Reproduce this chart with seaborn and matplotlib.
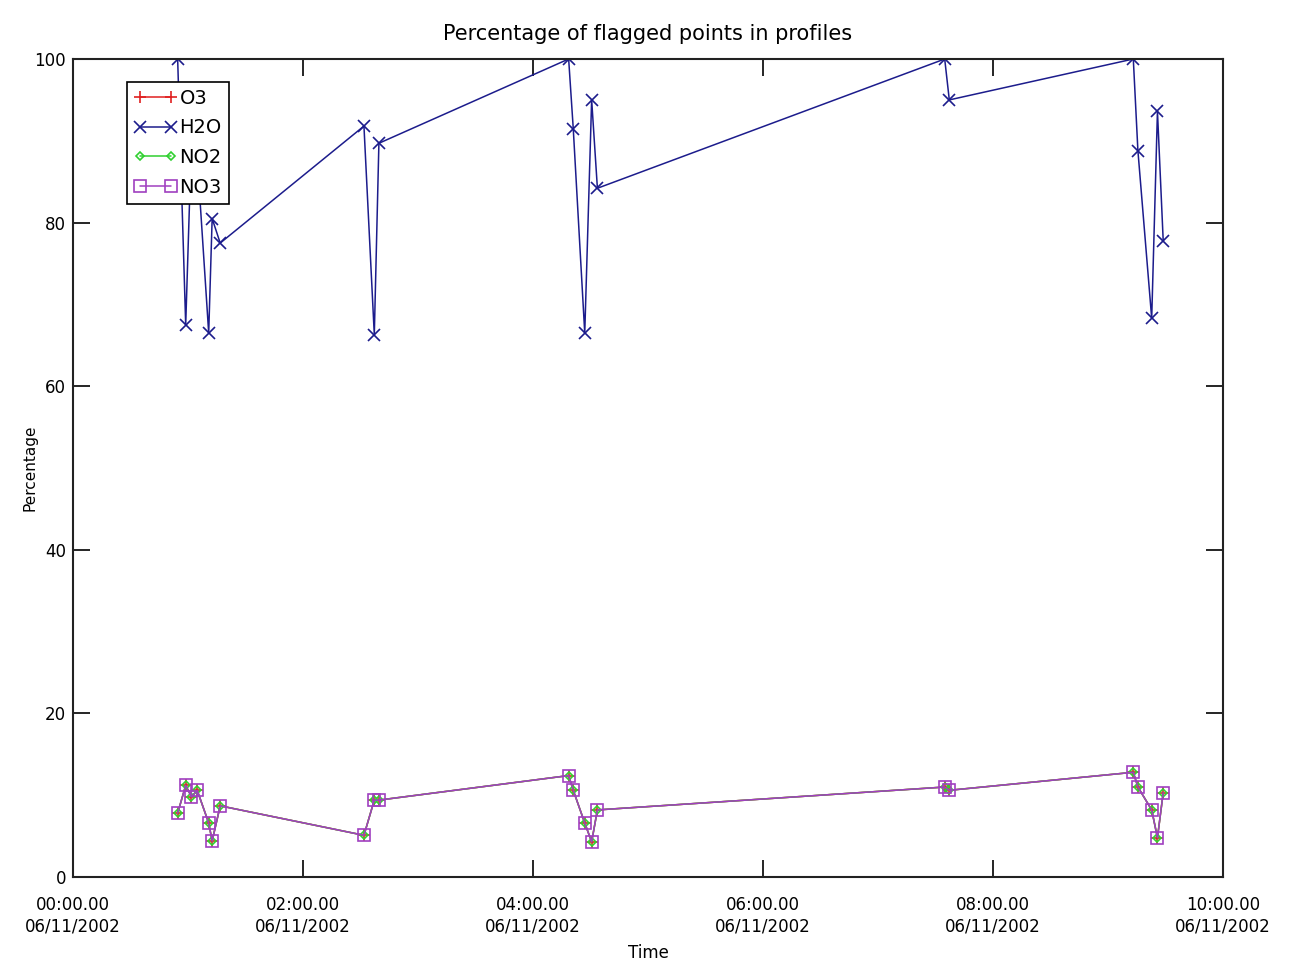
import numpy as np
import pandas as pd
import matplotlib
matplotlib.use("Agg")
import matplotlib.pyplot as plt
import matplotlib.dates as mdates
import seaborn as sns

# ---- data (hours after 00:00 on 06/11/2002) ----
time_hours = [0.91, 0.98, 1.03, 1.08, 1.18, 1.21, 1.28,
              2.53, 2.62, 2.66,
              4.31, 4.35, 4.45, 4.51, 4.56,
              7.58, 7.62,
              9.22, 9.26, 9.38, 9.43, 9.48]
h2o = [100.0, 67.5, 90.0, 88.0, 66.5, 80.5, 77.5,
       91.8, 66.3, 89.7,
       100.0, 91.5, 66.5, 95.0, 84.2,
       100.0, 95.0,
       100.0, 88.8, 68.3, 93.6, 77.8]
o3 = [7.8, 11.2, 9.8, 10.6, 6.6, 4.4, 8.7,
      5.1, 9.4, 9.4,
      12.4, 10.6, 6.6, 4.3, 8.2,
      11.0, 10.6,
      12.8, 11.0, 8.2, 4.8, 10.3]
no2 = list(o3)
no3 = list(o3)

series_names = ["O3", "H2O", "NO2", "NO3"]
series_values = [o3, h2o, no2, no3]
colors = {"O3": "#e02020", "H2O": "#1c1c8c", "NO2": "#30d030", "NO3": "#a040c0"}
markers = {"O3": "+", "H2O": "x", "NO2": "D", "NO3": "s"}
msizes = {"O3": 9, "H2O": 8.5, "NO2": 4.5, "NO3": 8.5}

start = pd.Timestamp("2002-06-11 00:00:00")
times = [start + pd.Timedelta(hours=h) for h in time_hours]

sns.set_style("ticks")
plt.rcParams["font.family"] = ["DejaVu Sans"]
plt.rcParams["text.color"] = "black"
plt.rcParams["axes.labelcolor"] = "black"

fig = plt.figure(figsize=(13.02, 9.67), dpi=100)
ax = fig.add_axes([73 / 1302, 1 - 877 / 967, 1150 / 1302, 818 / 967])

for name, vals in zip(series_names, series_values):
    df = pd.DataFrame({"Time": times, "Percentage": vals})
    kw = dict(marker=markers[name], markersize=msizes[name],
              markeredgewidth=1.2, markeredgecolor=colors[name])
    if name in ("NO2", "NO3"):
        kw["markerfacecolor"] = "none"
    sns.lineplot(data=df, x="Time", y="Percentage", ax=ax, color=colors[name],
                 sort=False, estimator=None, linewidth=1.1, label=name, **kw)

ax.set_xlim(start, start + pd.Timedelta(hours=10))
ax.set_ylim(0, 100)
ax.set_yticks([0, 20, 40, 60, 80, 100])
ax.xaxis.set_major_locator(mdates.HourLocator(byhour=range(0, 24, 2)))
ax.xaxis.set_major_formatter(mdates.DateFormatter("%H:%M.00\n%m/%d/%Y"))
ax.xaxis.set_minor_locator(matplotlib.ticker.NullLocator())

ax.tick_params(axis="both", which="major", direction="in", length=12, width=1.2,
               top=True, right=True, labelsize=12, colors="black")
ax.tick_params(axis="x", pad=14)
ax.tick_params(axis="y", pad=5)
for sp in ax.spines.values():
    sp.set_visible(True)
    sp.set_linewidth(1.5)
    sp.set_color("#222222")

ax.set_title("Percentage of flagged points in profiles", fontsize=15, pad=14,
             color="black")
ax.set_xlabel("Time", fontsize=12, labelpad=6)
ax.set_ylabel("Percentage", fontsize=11, labelpad=-2)

leg = ax.legend(loc="upper left", bbox_to_anchor=(0.047, 0.972), frameon=True,
                fancybox=False, edgecolor="black", fontsize=14, handlelength=2.2,
                handletextpad=0.15, borderpad=0.35, labelspacing=0.55,
                borderaxespad=0, framealpha=1, numpoints=2)
leg.get_frame().set_linewidth(1.2)
for t in leg.get_texts():
    t.set_color("black")

fig.savefig("out.png", dpi=100, facecolor="white")
